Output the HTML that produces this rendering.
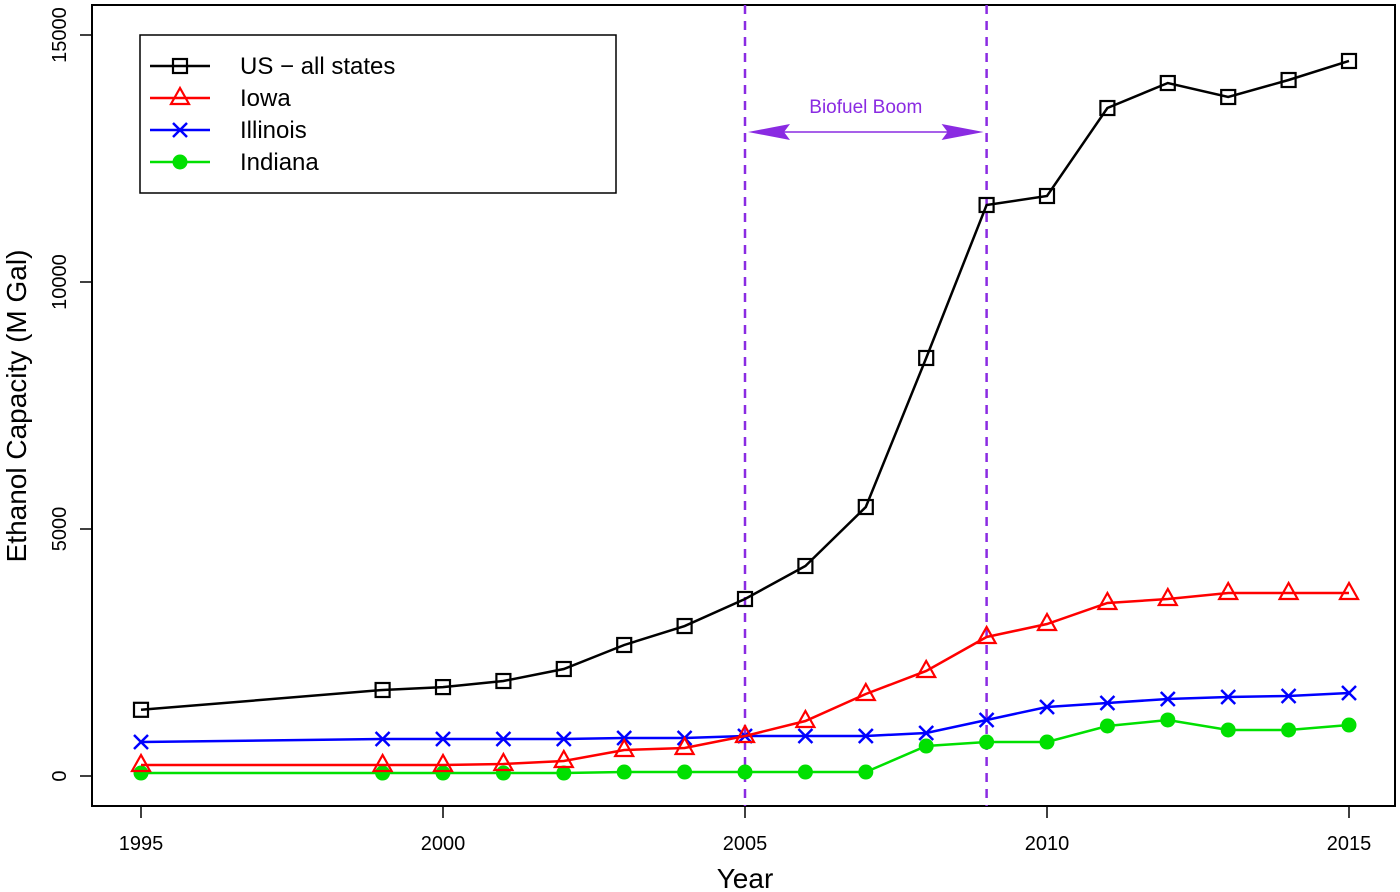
<!DOCTYPE html>
<html><head><meta charset="utf-8"><style>
html,body{margin:0;padding:0;background:#fff}
svg{display:block;font-family:"Liberation Sans",Arial,sans-serif}
</style></head><body>
<svg id="chart" width="1400" height="892" viewBox="0 0 1400 892">
<rect x="92" y="5" width="1303" height="801" fill="none" stroke="#000" stroke-width="2"/>
<g id="axes"></g>
<g id="marks"></g>
<text x="745" y="888" font-size="28" text-anchor="middle">Year</text>
<text transform="translate(26,406) rotate(-90)" font-size="28" text-anchor="middle">Ethanol Capacity (M Gal)</text>
<g>
<rect x="140" y="35" width="476" height="158" fill="#fff" stroke="#000" stroke-width="1.5"/>
<g id="legend"></g>
</g>
</svg>
<script>
const years=[1995,1999,2000,2001,2002,2003,2004,2005,2006,2007,2008,2009,2010,2011,2012,2013,2014,2015];
const usAll=[1340,1741,1800,1923,2166,2652,3036,3583,4251,5445,8462,11559,11741,13522,14028,13745,14089,14474];
const iowa=[223,223,223,243,304,526,567,810,1113,1660,2126,2814,3077,3502,3583,3704,3704,3704];
const illinois=[688,749,749,749,749,770,770,810,810,810,870,1134,1397,1478,1559,1600,1620,1680];
const indiana=[60,60,60,60,60,80,80,80,80,80,607,688,688,1012,1134,931,931,1032];
const xTicks=[1995,2000,2005,2010,2015];
const yTicks=[0,5000,10000,15000];
const boomStart=2005, boomEnd=2009;
const NS="http://www.w3.org/2000/svg";
const xs=y=>141+(y-1995)*60.4;
const ys=v=>776-v*(741/15000);
function mk(tag,attrs,parent){const e=document.createElementNS(NS,tag);for(const k in attrs)e.setAttribute(k,attrs[k]);parent.appendChild(e);return e;}
const axes=document.getElementById('axes'),marks=document.getElementById('marks'),leg=document.getElementById('legend');
mk('line',{x1:xs(xTicks[0]),x2:xs(xTicks[xTicks.length-1]),y1:806,y2:806,stroke:'#000','stroke-width':1.5},axes);
xTicks.forEach(t=>{
 const l=mk('line',{x1:xs(t),x2:xs(t),y1:806,y2:818,stroke:'#000','stroke-width':1.5},axes);
 
 
 const tx=mk('text',{x:xs(t),y:850,'font-size':20,'text-anchor':'middle'},axes);tx.textContent=t;
 
 
});
mk('line',{x1:92,x2:92,y1:ys(0),y2:ys(15000),stroke:'#000','stroke-width':1.5},axes);
yTicks.forEach(t=>{
 const l=mk('line',{x1:80,x2:92,y1:ys(t),y2:ys(t),stroke:'#000','stroke-width':1.5},axes);
 
 
 const tx=mk('text',{transform:`translate(66,${ys(t)}) rotate(-90)`,'font-size':20,'text-anchor':'middle'},axes);tx.textContent=t;
 
 
});
const purple='#8a2be2';
[boomStart,boomEnd].forEach(b=>{
 const l=mk('line',{x1:xs(b),x2:xs(b),y1:5,y2:806,stroke:purple,'stroke-width':2.5,'stroke-dasharray':'9,7'},marks);
 
 
});
const ay=132,ax1=xs(boomStart)+3,ax2=xs(boomEnd)-3;
const arr=mk('g',{},marks);


mk('line',{x1:ax1+10,x2:ax2-10,y1:ay,y2:ay,stroke:purple,'stroke-width':1.5},arr);
mk('polygon',{points:`${ax1},${ay} ${ax1+42},${ay-8} ${ax1+36},${ay} ${ax1+42},${ay+8}`,fill:purple},arr);
mk('polygon',{points:`${ax2},${ay} ${ax2-42},${ay-8} ${ax2-36},${ay} ${ax2-42},${ay+8}`,fill:purple},arr);
const bl=mk('text',{x:(xs(boomStart)+xs(boomEnd))/2,y:113,'font-size':19,'text-anchor':'middle',fill:purple},marks);bl.textContent='Biofuel Boom';


function marker(type,x,y,col,parent){
 if(type==='square')mk('rect',{x:x-7,y:y-7,width:14,height:14,fill:'none',stroke:col,'stroke-width':2.2},parent);
 else if(type==='tri')mk('polygon',{points:`${x},${y-10} ${x-9},${y+6} ${x+9},${y+6}`,fill:'none',stroke:col,'stroke-width':2.2},parent);
 else if(type==='x'){mk('line',{x1:x-7,y1:y-7,x2:x+7,y2:y+7,stroke:col,'stroke-width':2.5},parent);mk('line',{x1:x-7,y1:y+7,x2:x+7,y2:y-7,stroke:col,'stroke-width':2.5},parent);}
 else mk('circle',{cx:x,cy:y,r:7.5,fill:col},parent);
}
const series=[
 {name:'US − all states',vals:usAll,col:'#000',m:'square',id:'us-all-states'},
 {name:'Iowa',vals:iowa,col:'#ff0000',m:'tri',id:'iowa'},
 {name:'Illinois',vals:illinois,col:'#0000ff',m:'x',id:'illinois'},
 {name:'Indiana',vals:indiana,col:'#00e000',m:'circle',id:'indiana'}];
series.slice().reverse().forEach(s=>{
 const g=mk('g',{},marks);
 
 
 const pts=years.map((y,i)=>[xs(y),ys(s.vals[i])]);
 mk('polyline',{points:pts.map(p=>p.join(',')).join(' '),fill:'none',stroke:s.col,'stroke-width':2.5},g);
 pts.forEach(p=>marker(s.m,p[0],p[1],s.col,g));
});
series.forEach((s,i)=>{
 const y=66+i*32;
 const g=mk('g',{},leg);
 
 
 mk('line',{x1:150,x2:210,y1:y,y2:y,stroke:s.col,'stroke-width':2.5},g);
 marker(s.m,180,y,s.col,g);
 const t=mk('text',{x:240,y:y+8,'font-size':24},g);t.textContent=s.name;
});
</script>
</body></html>
